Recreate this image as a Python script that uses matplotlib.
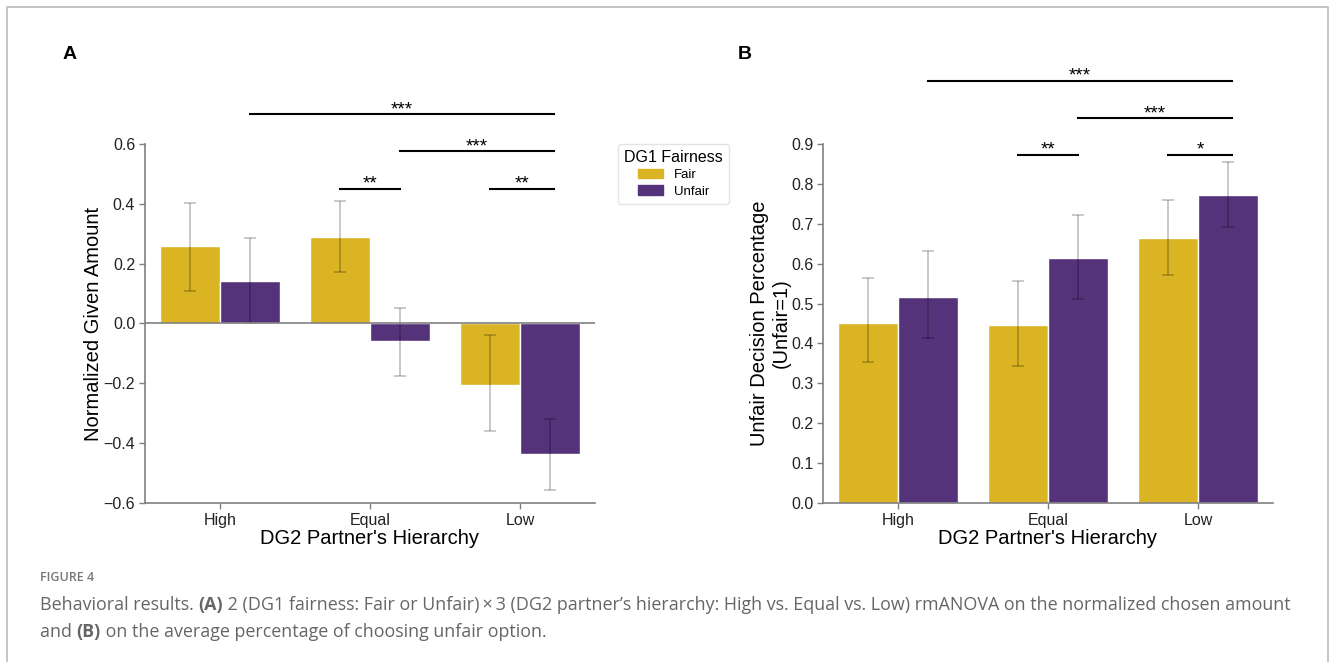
import numpy as np
import matplotlib
matplotlib.use("Agg")
import matplotlib.pyplot as plt
from matplotlib.lines import Line2D
from matplotlib.patches import Patch
from matplotlib.text import Annotation

plt.rcParams['font.family'] = ['Liberation Sans', 'DejaVu Sans']

# Data
hierarchy = ['High', 'Equal', 'Low']
groups = ['Fair', 'Unfair']

# Panel A: normalized given amount
a_fair = [0.26, 0.289, -0.205]
a_unfair = [0.141, -0.058, -0.435]
a_fair_lo = [0.107, 0.173, -0.360]
a_fair_hi = [0.403, 0.410, -0.038]
a_unfair_lo = [0.0, -0.175, -0.555]
a_unfair_hi = [0.287, 0.051, -0.320]

# Panel B: unfair decision percentage
b_fair = [0.451, 0.447, 0.665]
b_unfair = [0.516, 0.613, 0.771]
b_fair_lo = [0.354, 0.343, 0.572]
b_fair_hi = [0.563, 0.557, 0.760]
b_unfair_lo = [0.414, 0.511, 0.691]
b_unfair_hi = [0.631, 0.722, 0.856]

# significance brackets: (x1, x2, y, label)
a_sig = [(0.2, 2.23, 0.70, '***'), (1.2, 2.23, 0.575, '***'),
         (0.8, 1.2, 0.45, '**'), (1.8, 2.23, 0.45, '**')]
b_sig = [(0.2, 2.23, 1.058, '***'), (1.2, 2.23, 0.965, '***'),
         (0.8, 1.2, 0.873, '**'), (1.8, 2.23, 0.873, '*')]

c_fair = '#DAB423'
c_unfair = '#54337B'
spine_c = '#808080'


def draw_panel(ax, fair, unfair, flo, fhi, ulo, uhi, sig, ylim, yticks, ylabel, ypad):
    x = np.arange(len(hierarchy))
    w = 0.4
    ax.bar(x - w / 2, fair, w, color=c_fair, edgecolor='white', linewidth=1)
    ax.bar(x + w / 2, unfair, w, color=c_unfair, edgecolor='white', linewidth=1)
    for xs, vals, lo, hi in [(x - w / 2, fair, flo, fhi), (x + w / 2, unfair, ulo, uhi)]:
        vals = np.array(vals)
        err = [vals - np.array(lo), np.array(hi) - vals]
        ax.errorbar(xs, vals, yerr=err, fmt='none', ecolor=(0, 0, 0, 0.25),
                    elinewidth=1.2, capsize=4.5, capthick=1.2)
    for x1, x2, y, lab in sig:
        ax.plot([x1, x2], [y, y], color='black', lw=1.5, clip_on=False)
        ax.annotate(lab, xy=((x1 + x2) / 2, y), xytext=(0, 0), textcoords='offset points',
                    ha='center', va='baseline', fontsize=13.5, annotation_clip=False)
    ax.set_xlim(-0.5, 2.5)
    ax.set_ylim(*ylim)
    ax.set_yticks(yticks)
    ax.set_yticklabels([f'{t:.1f}'.replace('-', '\u2212') for t in yticks])
    ax.set_xticks(x)
    ax.set_xticklabels(hierarchy)
    ax.tick_params(labelsize=11.5, colors='#222222', length=4, width=1, color=spine_c, pad=3)
    ax.set_xlabel("DG2 Partner's Hierarchy", fontsize=14.5, labelpad=1)
    ax.set_ylabel(ylabel, fontsize=14.5, labelpad=ypad)
    for s in ['top', 'right']:
        ax.spines[s].set_visible(False)
    for s in ['left', 'bottom']:
        ax.spines[s].set_color(spine_c)
        ax.spines[s].set_linewidth(1.2)


fig = plt.figure(figsize=(13.3, 6.62), dpi=100)

ax_a = fig.add_axes([0.109, 0.2402, 0.3383, 0.5423])
draw_panel(ax_a, a_fair, a_unfair, a_fair_lo, a_fair_hi, a_unfair_lo, a_unfair_hi,
           a_sig, (-0.6, 0.6), np.arange(-0.6, 0.61, 0.2), 'Normalized Given Amount', 0)
ax_a.axhline(0, color=spine_c, lw=1.2, zorder=3)

ax_b = fig.add_axes([0.6188, 0.2402, 0.3383, 0.5423])
draw_panel(ax_b, b_fair, b_unfair, b_fair_lo, b_fair_hi, b_unfair_lo, b_unfair_hi,
           b_sig, (0, 0.9), np.arange(0, 0.91, 0.1), 'Unfair Decision Percentage\n(Unfair=1)', 0)

# legend between the panels
handles = [Patch(color=c_fair, label='Fair'), Patch(color=c_unfair, label='Unfair')]
leg = fig.legend(handles=handles, title='DG1 Fairness', loc='upper left',
                 bbox_to_anchor=(0.4647, 0.782), borderaxespad=0, fontsize=9.5,
                 title_fontsize=11.5, frameon=True, handlelength=1.9, handleheight=0.7,
                 borderpad=0.45, labelspacing=0.3, handletextpad=0.8)
leg.get_frame().set_edgecolor('#dddddd')

# panel letters
fig.text(0.0526, 0.918, 'A', fontsize=14, fontweight='bold', ha='center', va='center')
fig.text(0.5602, 0.918, 'B', fontsize=14, fontweight='bold', ha='center', va='center')

# outer frame
fig.add_artist(Line2D([0.0053, 0.0053, 0.9985, 0.9985], [0.0, 0.9894, 0.9894, 0.0],
                      color='#bbbbbb', lw=1.2, transform=fig.transFigure))

# caption
cap_c = '#666666'
cap_font = ['Open Sans', 'DejaVu Sans']
fig.text(0.030, 0.128, 'FIGURE 4', fontsize=9, color='#777777', family=cap_font,
         fontweight='semibold', va='center')


def caption_line(pieces, x, y):
    # each piece starts where the previous one ends
    prev = None
    for txt, bold in pieces:
        kw = dict(fontsize=12.9, color=cap_c, family=cap_font,
                  fontweight='bold' if bold else 'normal', va='bottom', ha='left')
        if prev is None:
            prev = fig.text(x, y, txt, **kw)
        else:
            prev = fig.add_artist(Annotation(txt, xy=(1, 0), xycoords=prev,
                                             annotation_clip=False, **kw))


caption_line([('Behavioral results. ', False), ('(A)', True),
              (" 2 (DG1 fairness: Fair or Unfair)\u2009\u00d7\u20093 (DG2 partner\u2019s hierarchy: "
               "High vs. Equal vs. Low) rmANOVA on the normalized chosen amount", False)],
             0.030, 0.072)
caption_line([('and ', False), ('(B)', True),
              (' on the average percentage of choosing unfair option.', False)], 0.030, 0.031)

fig.savefig('out.png', dpi=100)
